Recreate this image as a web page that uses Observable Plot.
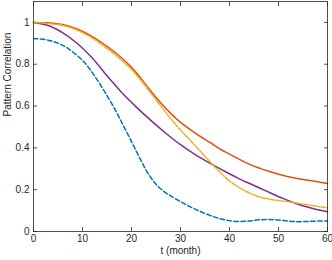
<!DOCTYPE html>
<html>
<head>
<meta charset="utf-8">
<script src="https://cdn.jsdelivr.net/npm/d3@7"></script>
<script src="https://cdn.jsdelivr.net/npm/@observablehq/plot@0.6"></script>
<style>
  html, body { margin: 0; padding: 0; background: #fff; }
</style>
</head>
<body>
<div id="chart"></div>
<script>
// Data
const tOrange = [0, 3, 6, 9, 12, 15, 18, 20, 22, 24, 26, 28, 30, 32, 34, 36, 38, 40, 44, 48, 52, 56, 60];
const vOrange = [1.0, 0.998, 0.99, 0.967, 0.932, 0.885, 0.83, 0.785, 0.73, 0.67, 0.615, 0.565, 0.522, 0.487, 0.455, 0.426, 0.395, 0.37, 0.322, 0.288, 0.262, 0.245, 0.23];

const tYellow = [0, 3, 6, 9, 12, 15, 18, 20, 22, 24, 26, 28, 30, 32, 34, 36, 38, 40, 42, 44, 46, 48, 50, 52, 54, 56, 58, 60];
const vYellow = [1.0, 0.995, 0.985, 0.962, 0.925, 0.875, 0.818, 0.775, 0.72, 0.66, 0.6, 0.54, 0.485, 0.436, 0.385, 0.334, 0.285, 0.242, 0.21, 0.185, 0.166, 0.155, 0.148, 0.142, 0.135, 0.128, 0.12, 0.113];

const tPurple = [0, 3, 6, 9, 12, 15, 18, 21, 24, 27, 30, 33, 36, 39, 42, 45, 48, 51, 54, 57, 60];
const vPurple = [1.0, 0.985, 0.95, 0.898, 0.83, 0.745, 0.665, 0.595, 0.53, 0.47, 0.415, 0.368, 0.327, 0.288, 0.252, 0.22, 0.188, 0.157, 0.13, 0.11, 0.094];

const tBlue = [0, 3, 6, 9, 11, 13, 15, 17, 18, 19, 20, 21, 22, 23, 24, 25, 26, 27, 28, 30, 32, 34, 36, 38, 40, 42, 44, 46, 48, 50, 52, 54, 56, 58, 60];
const vBlue = [0.923, 0.915, 0.89, 0.84, 0.792, 0.725, 0.65, 0.568, 0.522, 0.476, 0.43, 0.383, 0.337, 0.292, 0.256, 0.226, 0.203, 0.185, 0.17, 0.143, 0.118, 0.096, 0.077, 0.062, 0.052, 0.048, 0.05, 0.056, 0.057, 0.055, 0.05, 0.047, 0.048, 0.05, 0.05];

const xTicks = [0, 10, 20, 30, 40, 50, 60];
const yTicks = [0, 0.2, 0.4, 0.6, 0.8, 1];
const yTickLabels = ["0", "0.2", "0.4", "0.6", "0.8", "1"];
const xLabel = "t (month)";
const yLabel = "Pattern Correlation";

const toRows = (ts, vs) => ts.map((t, i) => ({t, v: vs[i]}));
const axisColor = "#262626";

const chart = Plot.plot({
  width: 332,
  height: 260,
  marginLeft: 33,
  marginRight: 5,
  marginTop: 1,
  marginBottom: 29,
  style: {fontFamily: "'Liberation Sans', Arial, sans-serif", fontSize: "10px", color: axisColor, background: "#fff"},
  x: {domain: [0, 60]},
  y: {domain: [0, 1.1]},
  marks: [
    // tick labels
    Plot.axisX(xTicks, {anchor: "bottom", tickSize: 0, tickPadding: 3, label: null, fill: axisColor}),
    Plot.axisY(yTicks, {anchor: "left", tickSize: 0, tickPadding: 4, label: null, fill: axisColor,
      tickFormat: (d) => yTickLabels[yTicks.indexOf(d)]}),
    // inward ticks on all sides
    Plot.axisX(xTicks, {anchor: "bottom", tickSize: 4, dy: -4, tickFormat: () => "", label: null, stroke: axisColor, strokeWidth: 0.8}),
    Plot.axisX(xTicks, {anchor: "top", tickSize: 4, dy: 4, tickFormat: () => "", label: null, stroke: axisColor, strokeWidth: 0.8}),
    Plot.axisY(yTicks, {anchor: "left", tickSize: 4, dx: 4, tickFormat: () => "", label: null, stroke: axisColor, strokeWidth: 0.8}),
    Plot.axisY(yTicks, {anchor: "right", tickSize: 4, dx: -4, tickFormat: () => "", label: null, stroke: axisColor, strokeWidth: 0.8}),
    // series
    Plot.line(toRows(tBlue, vBlue), {x: "t", y: "v", stroke: "#0072BD", strokeWidth: 1.5, strokeDasharray: "4.5,2.5", curve: "catmull-rom"}),
    Plot.line(toRows(tPurple, vPurple), {x: "t", y: "v", stroke: "#7E2F8E", strokeWidth: 1.5, curve: "catmull-rom"}),
    Plot.line(toRows(tOrange, vOrange), {x: "t", y: "v", stroke: "#D95319", strokeWidth: 1.5, curve: "catmull-rom"}),
    Plot.line(toRows(tYellow, vYellow), {x: "t", y: "v", stroke: "#EDB120", strokeWidth: 1.5, strokeDasharray: "4,1.5,1.5,1.5", curve: "catmull-rom"}),
    Plot.frame({stroke: axisColor, strokeWidth: 0.8}),
    // axis titles
    Plot.text([xLabel], {frameAnchor: "bottom", dy: 19, lineAnchor: "middle", fill: axisColor, fontSize: 10}),
    Plot.text([yLabel], {frameAnchor: "left", dx: -26, rotate: -90, lineAnchor: "middle", fill: axisColor, fontSize: 10})
  ]
});
document.getElementById("chart").appendChild(chart);
</script>
</body>
</html>
